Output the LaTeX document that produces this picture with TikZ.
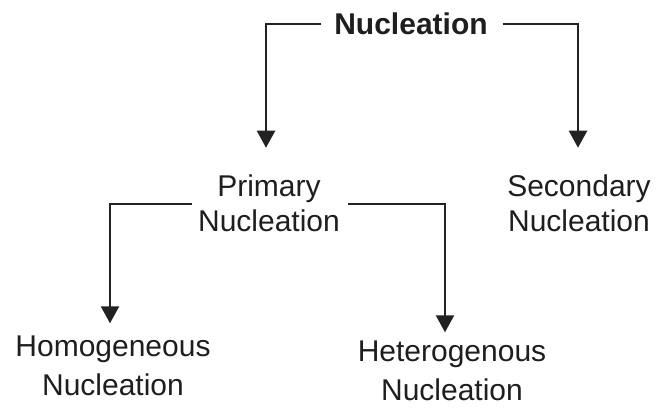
\documentclass[tikz,border=0pt]{standalone}
\usepackage{fontspec}
\setmainfont{Liberation Sans}
\usetikzlibrary{arrows.meta}
\definecolor{txt}{HTML}{1E1E1E}
\definecolor{ln}{HTML}{222222}
\tikzset{
  lbl/.style={inner sep=0pt, outer sep=0pt, align=center, text=txt, font=\fontsize{30}{35}\selectfont},
  lowlbl/.style={lbl, font=\fontsize{30}{39}\selectfont},
  conn/.style={draw=ln, line width=2.3pt, -{Triangle[width=18pt,length=17pt]}}
}
\begin{document}
\begin{tikzpicture}[x=1pt,y=-1pt]
\useasboundingbox (0,0) rectangle (656,407);
\node[lbl, font=\bfseries\fontsize{30}{35}\selectfont] (nuc) at (411,24.25) {Nucleation};
\node[lbl] (prim) at (269,203.75) {Primary\\Nucleation};
\node[lbl] (sec) at (579,203.75) {Secondary\\Nucleation};
\node[lowlbl] (homo) at (113,365.75) {Homogeneous\\Nucleation};
\node[lowlbl] (het) at (452,370.75) {Heterogenous\\Nucleation};
\draw[conn, shorten <=13pt, shorten >=27.5pt] (nuc.west) -| ([xshift=-3pt]prim.north);
\draw[conn, shorten <=15pt, shorten >=27.5pt] (nuc.east) -| ([xshift=-1pt]sec.north);
\draw[conn, shorten <=6pt, shorten >=12.5pt] (prim.west) -| ([xshift=-3pt]homo.north);
\draw[conn, shorten <=8pt, shorten >=8.5pt] (prim.east) -| ([xshift=-7pt]het.north);
\end{tikzpicture}
\end{document}
